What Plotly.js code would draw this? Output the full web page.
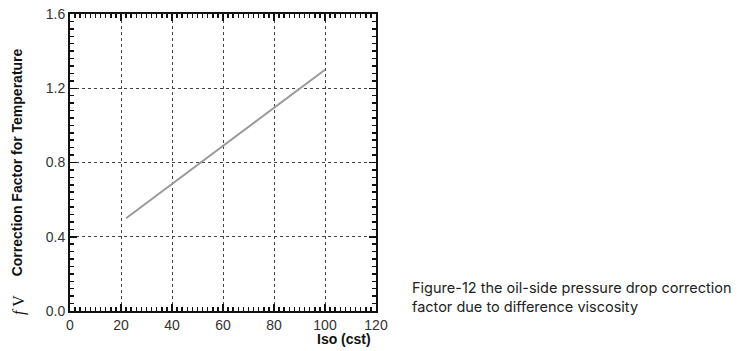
<!DOCTYPE html>
<html><head><meta charset="utf-8">
<script src="https://cdn.plot.ly/plotly-3.0.1.min.js"></script>
<style>html,body{margin:0;padding:0;background:#fff;}</style>
</head><body>
<div id="chart" style="width:737px;height:351px;"></div>
<script>
const isoCst = [22, 100];
const correctionFactor = [0.5, 1.3];
const xTicks = [0, 20, 40, 60, 80, 100, 120];
const yTicks = [0.0, 0.4, 0.8, 1.2, 1.6];
const yTickLabels = ['0.0', '0.4', '0.8', '1.2', '1.6'];

const L = 70, R = 376, T = 14, B = 311;
const px = v => (v - L) / (R - L);
const py = v => (B - v) / (B - T);

const trace = {
  x: isoCst, y: correctionFactor, type: 'scatter', mode: 'lines',
  line: {color: '#9a9a9a', width: 2}, hoverinfo: 'none', showlegend: false
};

const axisCommon = {
  showline: true, linecolor: '#111', linewidth: 2, mirror: 'allticks',
  ticks: 'inside', ticklen: 7, tickwidth: 1.5, tickcolor: '#111',
  showgrid: true, gridcolor: '#444', griddash: '3px,3px', gridwidth: 1,
  zeroline: false, fixedrange: true,
  tickfont: {family: 'Liberation Sans, Arial, sans-serif', size: 14, color: '#333'}
};

const layout = {
  width: 737, height: 351,
  margin: {l: L, r: 737 - R, t: T, b: 351 - B},
  paper_bgcolor: '#fff', plot_bgcolor: '#fff',
  xaxis: Object.assign({}, axisCommon, {
    range: [0, 120], tickvals: xTicks, ticktext: xTicks.map(String),
    minor: {dtick: 2, ticks: 'inside', ticklen: 4, tickcolor: '#111', showgrid: false}
  }),
  yaxis: Object.assign({}, axisCommon, {
    range: [0, 1.6], tickvals: yTicks, ticktext: yTickLabels,
    minor: {dtick: 0.04, ticks: 'inside', ticklen: 4, tickcolor: '#111', showgrid: false},
    title: {text: 'Correction Factor for Temperature', standoff: 20,
      font: {family: 'Liberation Sans, Arial, sans-serif', size: 14, color: '#111', weight: 'bold'}}
  }),
  annotations: [
    {xref: 'paper', yref: 'paper', x: px(373), y: py(339), xanchor: 'right', yanchor: 'middle',
     text: '<b>Iso (cst)</b>', showarrow: false,
     font: {family: 'Liberation Sans, Arial, sans-serif', size: 14, color: '#111'}},
    {xref: 'paper', yref: 'paper', x: px(19), y: py(305), xanchor: 'center', yanchor: 'middle',
     text: '<i>f</i> V', textangle: -90, showarrow: false,
     font: {family: 'Liberation Serif, Times New Roman, serif', size: 16, color: '#111'}},
    {xref: 'paper', yref: 'paper', x: px(410), y: py(297), xanchor: 'left', yanchor: 'middle',
     align: 'left', showarrow: false,
     text: 'Figure-12 the oil-side pressure drop correction<br>factor due to difference viscosity',
     font: {family: 'Inter, Liberation Sans, sans-serif', size: 14.5, color: '#222'}}
  ]
};

Plotly.newPlot('chart', [trace], layout, {displayModeBar: false, staticPlot: true});
</script>
</body></html>
